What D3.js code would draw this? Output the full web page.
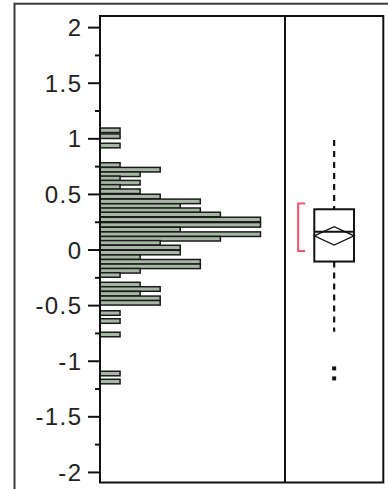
<!DOCTYPE html>
<html><head><meta charset="utf-8">
<script src="https://cdn.jsdelivr.net/npm/d3@7"></script>
<style>body{margin:0;background:#fff}svg{display:block}</style>
</head><body><svg id="c" width="388" height="489"></svg>
<script>
// ---- data ----
const tickValues = [2, 1.5, 1, 0.5, 0, -0.5, -1, -1.5, -2];
const tickLabels = ["2", "1.5", "1", "0.5", "0", "-0.5", "-1", "-1.5", "-2"];
const minorTicks = [1.75, 1.25, 0.75, 0.25, -0.25, -0.75, -1.25, -1.75];
const binCenters = [1.072, 1.019, 0.935, 0.760, 0.718, 0.677, 0.640, 0.601, 0.563, 0.524,
  0.477, 0.433, 0.391, 0.353, 0.315, 0.270, 0.222, 0.180, 0.138, 0.097,
  0.060, 0.018, -0.027, -0.069, -0.110, -0.151, -0.191, -0.229, -0.315, -0.355,
  -0.397, -0.439, -0.479, -0.571, -0.643, -0.764, -1.115, -1.187];
const binCounts = [1, 1, 1, 1, 3, 2, 1, 2, 1, 2,
  3, 5, 4, 5, 6, 8, 8, 4, 8, 6,
  3, 4, 4, 2, 5, 5, 2, 1, 2, 3,
  2, 3, 3, 1, 1, 1, 1, 1];
const binWidth = 0.041;
const boxGroup = ["Y"];
const quartiles = [-0.108, 0.160, 0.362];      // Q1, median, Q3
const whiskers = [-0.739, 0.985];
const meanCI = [0.040, 0.123, 0.205];          // lower CI, mean, upper CI
const outliers = [-1.069, -1.159];
const shortestHalf = [-0.013, 0.415];

// ---- layout ----
const L = 100, R = 383.3, T = 16, B = 482.5, DIV = 285;
const svg = d3.select("#c");

const y = d3.scaleLinear().domain([-2.095, 2.1]).range([B, T]);
const x = d3.scaleLinear().domain([0, 8]).range([L, 260.5]);
const bx = d3.scaleBand().domain(boxGroup).range([DIV, R]).paddingInner(0).paddingOuter(0.3);

// outer frame
svg.append("rect").attr("x", 14.5).attr("y", 3.7).attr("width", 500).attr("height", 600)
  .attr("fill", "none").attr("stroke", "#3a3a3a").attr("stroke-width", 2);

// histogram bars
svg.append("g").selectAll("rect").data(binCenters).join("rect")
  .attr("x", x(0))
  .attr("y", (d) => y(d + binWidth / 2))
  .attr("width", (d, i) => x(binCounts[i]) - x(0))
  .attr("height", (d) => y(d - binWidth / 2) - y(d + binWidth / 2))
  .attr("fill", "#a6b7a4").attr("stroke", "#1a1a1a").attr("stroke-width", 1.5);

// axes
const major = d3.axisLeft(y).tickValues(tickValues).tickSize(12).tickPadding(7)
  .tickFormat((d, i) => tickLabels[i]);
const gMaj = svg.append("g").attr("transform", `translate(${L},0)`).call(major);
gMaj.select(".domain").remove();
gMaj.selectAll(".tick line").attr("stroke", "#111").attr("stroke-width", 2);
gMaj.selectAll(".tick text").attr("font-family", "Liberation Sans, Arial, sans-serif")
  .attr("font-size", 24).attr("fill", "#222").attr("letter-spacing", "1.4px")
  .attr("dy", "0.36em").attr("x", -17.6);

const minor = d3.axisLeft(y).tickValues(minorTicks).tickSize(5).tickFormat("");
const gMin = svg.append("g").attr("transform", `translate(${L},0)`).call(minor);
gMin.select(".domain").remove();
gMin.selectAll(".tick line").attr("stroke", "#111").attr("stroke-width", 2);

// plot frame & divider
svg.append("rect").attr("x", L).attr("y", T).attr("width", R - L).attr("height", B - T)
  .attr("fill", "none").attr("stroke", "#111").attr("stroke-width", 2);
svg.append("line").attr("x1", DIV).attr("x2", DIV).attr("y1", T).attr("y2", B)
  .attr("stroke", "#111").attr("stroke-width", 2);

// box plot
const cx = bx("Y") + bx.bandwidth() / 2;
const bw = 39.7;
const g = svg.append("g");
// shortest half bracket
g.append("path")
  .attr("d", `M${cx - 29},${y(shortestHalf[1])} H${cx - 36} V${y(shortestHalf[0])} H${cx - 29}`)
  .attr("fill", "none").attr("stroke", "#ec5470").attr("stroke-width", 2);
// whiskers
g.append("line").attr("x1", cx).attr("x2", cx).attr("y1", y(whiskers[1])).attr("y2", y(quartiles[2]))
  .attr("stroke", "#111").attr("stroke-width", 2.2).attr("stroke-dasharray", "6,5");
g.append("line").attr("x1", cx).attr("x2", cx).attr("y1", y(quartiles[0])).attr("y2", y(whiskers[0]))
  .attr("stroke", "#111").attr("stroke-width", 2.2).attr("stroke-dasharray", "6,5");
// box
g.append("rect").attr("x", cx - bw / 2).attr("y", y(quartiles[2])).attr("width", bw)
  .attr("height", y(quartiles[0]) - y(quartiles[2]))
  .attr("fill", "#fff").attr("stroke", "#111").attr("stroke-width", 2);
// median
g.append("line").attr("x1", cx - bw / 2).attr("x2", cx + bw / 2)
  .attr("y1", y(quartiles[1])).attr("y2", y(quartiles[1]))
  .attr("stroke", "#111").attr("stroke-width", 2);
// mean diamond
g.append("polygon")
  .attr("points", [[cx - bw / 2, y(meanCI[1])], [cx, y(meanCI[2])], [cx + bw / 2, y(meanCI[1])], [cx, y(meanCI[0])]].map(p => p.join(",")).join(" "))
  .attr("fill", "none").attr("stroke", "#111").attr("stroke-width", 1.4);
// outliers
g.selectAll("rect.out").data(outliers).join("rect").attr("class", "out")
  .attr("x", cx - 2).attr("y", (d) => y(d) - 2).attr("width", 4).attr("height", 4)
  .attr("fill", "#111");
</script></body></html>
